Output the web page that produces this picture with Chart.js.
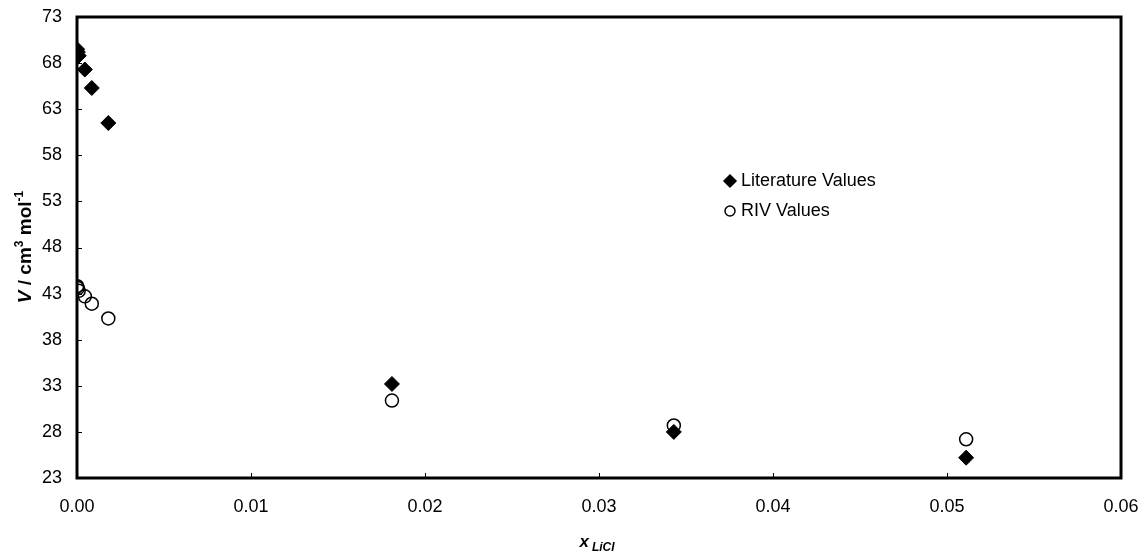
<!DOCTYPE html>
<html>
<head>
<meta charset="utf-8">
<script src="https://cdn.jsdelivr.net/npm/chart.js@4.4.0/dist/chart.umd.min.js"></script>
<style>
    body { margin: 0; background: #fff; }
    #wrap { width: 1144px; height: 554px; position: relative; }
</style>
</head>
<body>
<div id="wrap"><canvas id="volumeChart"></canvas></div>
<script>
// mole fraction of LiCl
const xLiCl = [0.00001, 0.00005, 0.0001, 0.00045, 0.00085, 0.0018, 0.0181, 0.0343, 0.0511];
const litValues = [69.5, 69.2, 68.8, 67.3, 65.3, 61.5, 33.2, 28.0, 25.2];
const rivValues = [43.8, 43.6, 43.3, 42.7, 41.9, 40.3, 31.4, 28.7, 27.2];
const yTicks = [23, 28, 33, 38, 43, 48, 53, 58, 63, 68, 73];
const xTicks = [0, 0.01, 0.02, 0.03, 0.04, 0.05, 0.06];

const FONT = '"Liberation Sans", Arial, sans-serif';

function toPoints(xs, ys) {
    return xs.map(function(x, i) { return { x: x, y: ys[i] }; });
}

// frame, inner tick marks, axis titles and legend
const decorPlugin = {
    id: 'decor',
    afterDraw: function(chart) {
        const ctx = chart.ctx;
        const area = chart.chartArea;
        const xs = chart.scales.x;
        const ys = chart.scales.y;
        ctx.save();

        // tick marks pointing inward
        ctx.strokeStyle = '#000';
        ctx.lineWidth = 1;
        ctx.beginPath();
        yTicks.forEach(function(v) {
            const py = Math.round(ys.getPixelForValue(v)) + 0.5;
            ctx.moveTo(area.left, py);
            ctx.lineTo(area.left + 5, py);
        });
        xTicks.forEach(function(v) {
            const px = Math.round(xs.getPixelForValue(v)) + 0.5;
            ctx.moveTo(px, area.bottom);
            ctx.lineTo(px, area.bottom - 5);
        });
        ctx.stroke();

        // plot frame
        ctx.lineWidth = 3;
        ctx.strokeRect(area.left, area.top, area.right - area.left, area.bottom - area.top);

        // y title: V / cm3 mol-1
        ctx.fillStyle = '#000';
        ctx.textBaseline = 'alphabetic';
        const ySegs = [
            { t: 'V', f: 'bold italic 19px ' + FONT, dy: 0 },
            { t: ' / cm', f: 'bold 19px ' + FONT, dy: 0 },
            { t: '3', f: 'bold 12px ' + FONT, dy: -8 },
            { t: ' mol', f: 'bold 19px ' + FONT, dy: 0 },
            { t: '-1', f: 'bold 12px ' + FONT, dy: -8 }
        ];
        let total = 0;
        ySegs.forEach(function(s) { ctx.font = s.f; total += ctx.measureText(s.t).width; });
        ctx.translate(31, 247);
        ctx.rotate(-Math.PI / 2);
        let cx = -total / 2;
        ySegs.forEach(function(s) {
            ctx.font = s.f;
            ctx.fillText(s.t, cx, s.dy);
            cx += ctx.measureText(s.t).width;
        });
        ctx.setTransform(1, 0, 0, 1, 0, 0);

        // x title: x_LiCl
        ctx.font = 'bold italic 17px ' + FONT;
        const w1 = ctx.measureText('x').width;
        ctx.font = 'bold italic 12px ' + FONT;
        const w2 = ctx.measureText('LiCl').width;
        let tx = 597 - (w1 + w2 + 3) / 2;
        ctx.font = 'bold italic 17px ' + FONT;
        ctx.fillText('x', tx, 547);
        ctx.font = 'bold italic 12px ' + FONT;
        ctx.fillText('LiCl', tx + w1 + 3, 551);

        // legend
        const items = [
            { label: 'Literature Values', style: 'rectRot', r: 6, fill: '#000', y: 181 },
            { label: 'RIV Values', style: 'circle', r: 5, fill: '#fff', y: 211 }
        ];
        ctx.font = '18px ' + FONT;
        ctx.textBaseline = 'middle';
        items.forEach(function(it) {
            ctx.fillStyle = it.fill;
            ctx.strokeStyle = '#000';
            ctx.lineWidth = 1.5;
            Chart.helpers.drawPoint(ctx, {
                pointStyle: it.style,
                radius: it.r,
                borderWidth: 1.5,
                rotation: 0
            }, 730, it.y);
            ctx.fillStyle = '#000';
            ctx.fillText(it.label, 741, it.y);
        });
        ctx.restore();
    }
};

document.addEventListener('DOMContentLoaded', function() {
    const ctx = document.getElementById('volumeChart').getContext('2d');

    new Chart(ctx, {
        type: 'scatter',
        data: {
            datasets: [
                {
                    label: 'Literature Values',
                    data: toPoints(xLiCl, litValues),
                    pointStyle: 'rectRot',
                    pointRadius: 7.5,
                    pointBackgroundColor: '#000',
                    pointBorderColor: '#000',
                    pointBorderWidth: 1
                },
                {
                    label: 'RIV Values',
                    data: toPoints(xLiCl, rivValues),
                    pointStyle: 'circle',
                    pointRadius: 6.5,
                    pointBackgroundColor: 'rgba(255,255,255,0)',
                    pointBorderColor: '#000',
                    pointBorderWidth: 1.5
                }
            ]
        },
        options: {
            responsive: true,
            maintainAspectRatio: false,
            animation: false,
            layout: { padding: { left: 0, top: 17, right: 23, bottom: 0 } },
            plugins: {
                legend: { display: false },
                tooltip: { enabled: false }
            },
            scales: {
                x: {
                    type: 'linear',
                    min: 0,
                    max: 0.06,
                    afterBuildTicks: function(axis) {
                        axis.ticks = xTicks.map(function(v) { return { value: v }; });
                    },
                    afterFit: function(axis) {
                        axis.height = 76;
                        axis.paddingLeft = 0;
                        axis.paddingRight = 0;
                    },
                    grid: { display: false, drawTicks: false },
                    border: { display: false },
                    ticks: {
                        color: '#000',
                        padding: 18,
                        font: { family: FONT, size: 18 },
                        maxRotation: 0,
                        callback: function(v) { return Number(v).toFixed(2); }
                    }
                },
                y: {
                    min: 23,
                    max: 73,
                    afterBuildTicks: function(axis) {
                        axis.ticks = yTicks.map(function(v) { return { value: v }; });
                    },
                    afterFit: function(axis) {
                        axis.width = 77;
                        axis.paddingTop = 0;
                        axis.paddingBottom = 0;
                    },
                    grid: { display: false, drawTicks: false },
                    border: { display: false },
                    ticks: {
                        color: '#000',
                        padding: 15,
                        font: { family: FONT, size: 18 }
                    }
                }
            }
        },
        plugins: [decorPlugin]
    });
});
</script>
</body>
</html>
